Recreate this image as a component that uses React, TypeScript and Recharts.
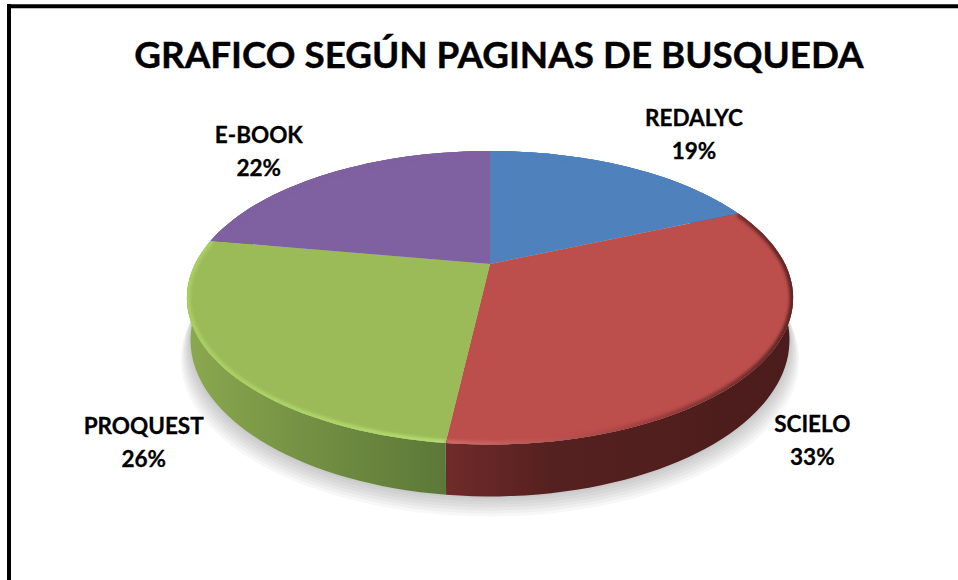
import React from "react"
import { PieChart, Pie, Cell } from "recharts"

const categories = ["REDALYC", "SCIELO", "PROQUEST", "E-BOOK"]
const counts = [5, 9, 7, 6]
const topColors = ["#4f81bd", "#bc4e4b", "#9bbb59", "#7f60a0"]

const pieData = categories.map((name, i) => ({ name, value: counts[i] }))

// label offsets from the rim point of each slice
const labelOffsets = [
	{ dx: 68, dy: -41 },
	{ dx: 48, dy: 72 },
	{ dx: -72, dy: 74 },
	{ dx: -70, dy: -30 },
]

// stacked rings stand in for the soft drop shadow
const shadowRings = [20, 17, 14, 11, 8, 5, 2]

const PERSPECTIVE = 0.23
const SQUASH = 139 / 295
const DEPTH = 40

const project = (cx: number, cy: number, r: number, deg: number) => {
	const a = (deg * Math.PI) / 180
	const u = Math.cos(a)
	const v = -Math.sin(a)
	const d = 1 - PERSPECTIVE * v
	return { x: cx + (r * u) / d, y: cy + (r * SQUASH * v) / d, d }
}

const arcPoints = (cx: number, cy: number, r: number, start: number, end: number, bottom: boolean, grow = 0, widen = 0.988) => {
	const pts: string[] = []
	const steps = Math.max(8, Math.ceil(Math.abs(end - start) / 2))
	for (let i = 0; i <= steps; i++) {
		const p = project(cx, cy, r, start + ((end - start) * i) / steps)
		const x = bottom ? cx + (p.x - cx) * widen : p.x
		const y = bottom ? p.y + DEPTH / p.d + grow : p.y
		pts.push(`${x.toFixed(1)},${y.toFixed(1)}`)
	}
	return pts
}

const TopSlice = (props: any) => {
	const { cx, cy, outerRadius, startAngle, endAngle, fill, index } = props
	const rim = arcPoints(cx, cy, outerRadius, startAngle, endAngle, false)
	return (
		<g>
			<path d={`M${cx},${cy}L${rim.join("L")}Z`} fill={fill} />
			<clipPath id={`clipTop${index}`}>
				<path d={`M${cx},${cy}L${rim.join("L")}Z`} />
			</clipPath>
			<g clipPath={`url(#clipTop${index})`}>
				<path d={`M${rim.join("L")}`} fill="none" stroke={`url(#bevel${index})`} strokeWidth={7} style={{ filter: "blur(1.5px)" }} />
			</g>
		</g>
	)
}

const WallSlice = (props: any) => {
	const { cx, cy, outerRadius, startAngle, endAngle, index } = props
	const rim = arcPoints(cx, cy, outerRadius, startAngle, endAngle, false)
	const low = arcPoints(cx, cy, outerRadius, startAngle, endAngle, true).reverse()
	return <path d={`M${rim.join("L")}L${low.join("L")}Z`} fill={`url(#wall${index})`} />
}

const ShadowSlice = (props: any) => {
	const { cx, cy, outerRadius, startAngle, endAngle } = props
	return (
		<g>
			{shadowRings.map((grow) => {
				const low = arcPoints(cx, cy, outerRadius, startAngle, endAngle, true, grow, 0.988 + grow * 0.0016)
				return <path key={grow} d={`M${cx},${cy + 40}L${low.join("L")}Z`} fill="#000" fillOpacity={0.03} />
			})}
		</g>
	)
}

const renderLabel = (props: any) => {
	const { cx, cy, outerRadius, midAngle, index, percent } = props
	const p = project(cx, cy, outerRadius, midAngle)
	const off = labelOffsets[index]
	const x = p.x + off.dx
	const y = p.y + off.dy
	return (
		<text x={x} textAnchor="middle" fontFamily="Lato" fontWeight={700} fontSize={22.5} fill="#000" stroke="#000" strokeWidth={0.3}>
			<tspan x={x} y={y}>{categories[index]}</tspan>
			<tspan x={x} y={y + 33}>{Math.round(percent * 100)}%</tspan>
		</text>
	)
}

const wallStops = [
	[["0%", "#3d6696"], ["100%", "#3d6696"]],
	[["0%", "#702a2a"], ["30%", "#552120"], ["100%", "#4a1c1b"]],
	[["0%", "#8aa84e"], ["55%", "#6f8c41"], ["100%", "#5c7838"]],
	[["0%", "#66508a"], ["100%", "#66508a"]],
]
const wallSpans = [[490, 740], [447, 793], [190, 447], [207, 490]]

const bevelStops = [
	[["0%", "#4f81bd"], ["100%", "#4f81bd"]],
	[["0%", "#d06a66"], ["50%", "#a84543"], ["100%", "#5c2423"]],
	[["0%", "#a8cf60"], ["100%", "#b4da70"]],
	[["0%", "#7f60a0"], ["100%", "#7f60a0"]],
]

export default function App() {
	return (
		<div style={{ position: "absolute", left: 0, top: 0, width: 958, height: 580, background: "#fff" }}>
			<PieChart width={958} height={580} margin={{ top: 0, right: 0, bottom: 0, left: 0 }}>
				<defs>
					{wallStops.map((stops, i) => (
						<linearGradient key={i} id={`wall${i}`} gradientUnits="userSpaceOnUse" x1={wallSpans[i][0]} x2={wallSpans[i][1]} y1={0} y2={0}>
							{stops.map(([o, c]) => <stop key={o} offset={o} stopColor={c} />)}
						</linearGradient>
					))}
					{bevelStops.map((stops, i) => (
						<linearGradient key={i} id={`bevel${i}`} gradientUnits="userSpaceOnUse" x1={wallSpans[i][0]} x2={wallSpans[i][1]} y1={0} y2={0}>
							{stops.map(([o, c]) => <stop key={o} offset={o} stopColor={c} />)}
						</linearGradient>
					))}
				</defs>
				<line x1={7} y1={6.3} x2={958} y2={6.3} stroke="#000" strokeWidth={4} />
				<line x1={9} y1={4} x2={9} y2={580} stroke="#000" strokeWidth={4} />
				<text x={499} y={68} textAnchor="middle" fontFamily="Lato" fontWeight={700} fontSize={36.8} fill="#000" stroke="#000" strokeWidth={0.4}>
					GRAFICO SEGÚN PAGINAS DE BUSQUEDA
				</text>
				<Pie data={pieData} dataKey="value" cx={490} cy={264} outerRadius={295} startAngle={90} endAngle={-270} isAnimationActive={false} shape={ShadowSlice} stroke="none" />
				<Pie data={pieData} dataKey="value" cx={490} cy={264} outerRadius={295} startAngle={90} endAngle={-270} isAnimationActive={false} shape={WallSlice} stroke="none" />
				<Pie data={pieData} dataKey="value" cx={490} cy={264} outerRadius={295} startAngle={90} endAngle={-270} isAnimationActive={false} shape={TopSlice} stroke="none" label={renderLabel} labelLine={false}>
					{pieData.map((d, i) => <Cell key={d.name} fill={topColors[i]} />)}
				</Pie>
			</PieChart>
		</div>
	)
}
